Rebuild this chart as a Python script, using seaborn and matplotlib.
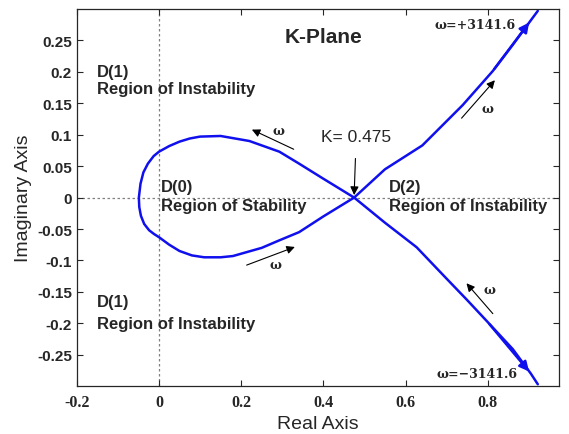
import matplotlib
matplotlib.use("Agg")
import matplotlib.pyplot as plt
import pandas as pd
import seaborn as sns

# D-decomposition boundary, ordered from w=-3141.6 to w=+3141.6
k_re = [0.922, 0.905, 0.861, 0.80, 0.75, 0.70, 0.627, 0.55, 0.475,
        0.40, 0.341, 0.293, 0.22, 0.15, 0.10, 0.075, 0.05, 0.025, 0.0, -0.013,
        -0.027, -0.038, -0.045, -0.049,
        -0.048, -0.044, -0.036, -0.024, -0.012, 0.0, 0.025, 0.05, 0.08, 0.11, 0.15,
        0.18, 0.25, 0.293, 0.341, 0.40, 0.475,
        0.55, 0.641, 0.739, 0.812, 0.861, 0.905, 0.922]
k_im = [-0.297, -0.280, -0.241, -0.198, -0.163, -0.129, -0.079, -0.040, 0.0,
        0.030, 0.054, 0.073, 0.090, 0.098, 0.097, 0.094, 0.089, 0.082, 0.073, 0.066,
        0.054, 0.040, 0.022, 0.0,
        -0.015, -0.029, -0.042, -0.052, -0.058, -0.063, -0.075, -0.085, -0.092, -0.095, -0.095,
        -0.093, -0.080, -0.068, -0.055, -0.030, 0.0,
        0.045, 0.083, 0.147, 0.201, 0.243, 0.282, 0.297]

k_cross = 0.475
w_end = 3141.6

df = pd.DataFrame({"re": k_re, "im": k_im})

sns.set_style("ticks")
plt.rcParams['font.family'] = ['Liberation Sans', 'DejaVu Sans']

fig = plt.figure(figsize=(5.69, 4.35), dpi=100)
ax = fig.add_axes([0.135, 0.11, 0.847, 0.867])

ax.axvline(0, color="gray", ls=(0, (2, 2)), lw=0.9, zorder=0)
ax.axhline(0, color="gray", ls=(0, (2, 2)), lw=0.9, zorder=0)

sns.lineplot(data=df, x="re", y="im", sort=False, estimator=None,
             color="#1010ee", lw=1.8, ax=ax)

# blue heads at both ends of the curve
blue_head = dict(arrowstyle="-|>", color="#1010ee", lw=1.8, mutation_scale=14)
ax.annotate("", xy=(k_re[1], k_im[1]), xytext=(k_re[3], k_im[3]), arrowprops=blue_head)
ax.annotate("", xy=(k_re[-2], k_im[-2]), xytext=(k_re[-4], k_im[-4]), arrowprops=blue_head)

bold = dict(fontsize=12, fontweight="bold")
ax.text(0.40, 0.257, "K-Plane", ha="center", va="center", fontsize=15, fontweight="bold")
ax.text(-0.152, 0.2, "D(1)", ha="left", va="center", **bold)
ax.text(-0.152, 0.173, "Region of Instability", ha="left", va="center", **bold)
ax.text(0.005, 0.018, "D(0)", ha="left", va="center", **bold)
ax.text(0.005, -0.013, "Region of Stability", ha="left", va="center", **bold)
ax.text(0.56, 0.018, "D(2)", ha="left", va="center", **bold)
ax.text(0.56, -0.013, "Region of Instability", ha="left", va="center", **bold)
ax.text(-0.152, -0.165, "D(1)", ha="left", va="center", **bold)
ax.text(-0.152, -0.2, "Region of Instability", ha="left", va="center", **bold)

serif = dict(family="DejaVu Serif", fontsize=9, fontweight="bold")
ax.text(0.868, 0.275, "ω=+%.1f" % w_end, ha="right", va="center", **serif)
ax.text(0.872, -0.28, "ω=−%.1f" % w_end, ha="right", va="center", **serif)

# K marker
ax.annotate("K= %.3f" % k_cross, xy=(k_cross, 0.004), xytext=(k_cross + 0.005, 0.097),
            ha="center", va="center", fontsize=12.5,
            arrowprops=dict(arrowstyle="-|>", color="black", lw=0.8, shrinkA=8, shrinkB=0))

# direction arrows for omega
black_head = dict(arrowstyle="-|>", color="black", lw=0.8, mutation_scale=12)
w_arrows = [((0.334, 0.075), (0.22, 0.11), (0.29, 0.107)),
            ((0.207, -0.109), (0.337, -0.077), (0.283, -0.106)),
            ((0.732, 0.123), (0.822, 0.19), (0.80, 0.142)),
            ((0.817, -0.188), (0.744, -0.133), (0.805, -0.146))]
for tail, head, lab in w_arrows:
    ax.annotate("", xy=head, xytext=tail, arrowprops=black_head)
    ax.text(lab[0], lab[1], "ω", ha="center", va="center", **serif)

ax.set_xlim(-0.2, 0.973)
ax.set_ylim(-0.3, 0.3)
ax.set_xticks([-0.2, 0, 0.2, 0.4, 0.6, 0.8])
ax.set_xticklabels(["-0.2", "0", "0.2", "0.4", "0.6", "0.8"])
ax.set_yticks([-0.25, -0.2, -0.15, -0.1, -0.05, 0, 0.05, 0.1, 0.15, 0.2, 0.25])
ax.set_yticklabels(["-0.25", "-0.2", "-0.15", "-0.1", "-0.05", "0",
                    "0.05", "0.1", "0.15", "0.2", "0.25"])
ax.tick_params(direction="in", length=4, top=True, right=True, width=0.8)
for t in ax.get_xticklabels():
    t.set_fontweight("bold")
    t.set_family("Liberation Serif")
    t.set_fontsize(11.5)
for t in ax.get_yticklabels():
    t.set_fontweight("bold")
    t.set_fontsize(11)
ax.tick_params(axis="x", pad=6)
for s in ax.spines.values():
    s.set_linewidth(0.9)
    s.set_visible(True)

ax.set_xlabel("Real Axis", fontsize=14, labelpad=3)
ax.set_ylabel("Imaginary Axis", fontsize=14, labelpad=4)

fig.savefig("out.png", dpi=100)
